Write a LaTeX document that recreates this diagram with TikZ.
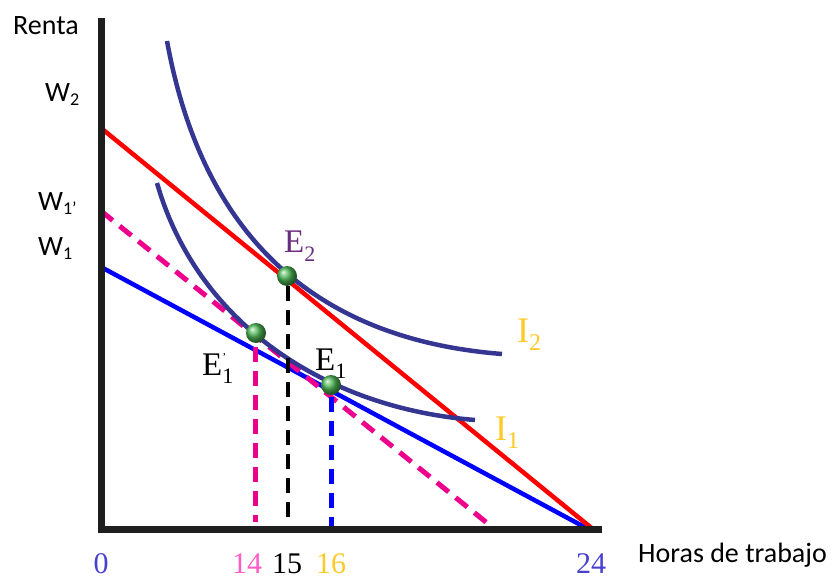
\documentclass[tikz,border=0pt]{standalone}
\usepackage{fontspec}
\setmainfont{Liberation Serif}
\newfontfamily\calib{Carlito}
\usetikzlibrary{calc}
\definecolor{axiscol}{HTML}{1F1F1F}
\definecolor{curvecol}{HTML}{353592}
\definecolor{goldcol}{HTML}{FFC928}
\definecolor{pinkcol}{HTML}{FF5BC8}
\definecolor{purpcol}{HTML}{6A2C7E}
\definecolor{zerocol}{HTML}{4A40D0}
\definecolor{balcol}{HTML}{4CB854}
\newcommand{\subx}[3]{\raisebox{#2}{\fontsize{#1}{#1}\selectfont #3}}
\begin{document}
\begin{tikzpicture}[x=1pt,y=-1pt,
  axisline/.style={line width=7pt,color=axiscol},
  budget/.style={line width=4.5pt},
  indiff/.style={line width=4.5pt,color=curvecol},
  dashline/.style={line width=5pt,dash pattern=on 15pt off 9pt},
  ball/.style={circle,minimum size=20pt,inner sep=0pt,shading=ball,ball color=balcol},
  sanslab/.style={font=\calib\fontsize{28}{28}\selectfont,text=black,inner sep=0pt,anchor=base west},
  ticklab/.style={font=\fontsize{30}{30}\selectfont,inner sep=0pt,anchor=base},
  elab/.style={font=\fontsize{33}{33}\selectfont,inner sep=0pt,anchor=base west},
  ilab/.style={font=\fontsize{36}{36}\selectfont,inner sep=0pt,anchor=base west,text=goldcol},
]
\useasboundingbox (0,0) rectangle (838,580);
% axis points
\coordinate (ytop) at (101,22);
\coordinate (orig) at (101,529);
\coordinate (xend) at (598,529);
\coordinate (w2) at (101,128);
\coordinate (w1p) at (101,211);
\coordinate (w1) at (101,267);
\coordinate (r24) at (594,530);
\coordinate (b24) at (590,530);
\coordinate (m24) at (497,531);
% budget lines
\draw[budget,blue] (w1) -- (b24);
\draw[budget,magenta,dashline] (w1p) -- (m24);
\draw[budget,red] (w2) -- (r24);
% indifference curves
\coordinate (i2s) at (167,41);
\coordinate (i2e) at (502,354);
\coordinate (i1s) at (157,183);
\coordinate (i1e) at (475,420);
\draw[indiff] (i2s) .. controls (202,233) and (312,339) .. (i2e);
\draw[indiff] (i1s) .. controls (197,323) and (325,408) .. (i1e);
% equilibrium points
\coordinate (pe2) at (287,276);
\coordinate (pe1p) at (256,333);
\coordinate (pe1) at (331,385);
\coordinate (f15) at (288,526);
\coordinate (f14) at (255,522);
\coordinate (f16) at (331,530);
\draw[dashline,line width=4.5pt,black] ($(pe2)+(1,10)$) -- (f15);
\draw[dashline,magenta] ($(pe1p)+(-1,14)$) -- (f14);
\draw[dashline,blue] ($(pe1)+(0,12)$) -- (f16);
\node[ball] (e2) at (pe2) {};
\node[ball] (e1p) at (pe1p) {};
\node[ball] (e1) at (pe1) {};
% axes
\draw[axisline,line cap=rect] (ytop) -- (orig) -- (xend);
% labels
\node[sanslab] (renta) at (13,35) {Renta};
\node[sanslab] (lw2) at (45,102) {W\subx{18}{-4pt}{2}};
\node[sanslab] (lw1p) at (38,211) {W\subx{18}{-4pt}{1’}};
\node[sanslab] (lw1) at (38,255) {W\subx{18}{-4pt}{1}};
\node[sanslab] (horas) at (638,562) {Horas de trabajo};
\node[ticklab,text=zerocol] (t0) at (101,573) {0};
\node[ticklab,text=pinkcol] (t14) at (247,573) {14};
\node[ticklab,text=black] (t15) at (287,573) {15};
\node[ticklab,text=goldcol] (t16) at (331,573) {16};
\node[ticklab,text=zerocol] (t24) at (591,573) {24};
\node[elab,text=purpcol] (le2) at (284,253) {E\subx{22}{-9pt}{2}};
\node[elab,text=black] (le1) at (315,370) {E\subx{22}{-8pt}{1}};
\node[elab,text=black] (le1p) at (202,375) {E\rlap{\raisebox{14pt}{\fontsize{12}{12}\selectfont ’}}\subx{22}{-8pt}{1}};
\node[ilab] (li2) at (517,342) {I\subx{24}{-8pt}{2}};
\node[ilab] (li1) at (495,440) {I\subx{24}{-8pt}{1}};
\end{tikzpicture}
\end{document}
